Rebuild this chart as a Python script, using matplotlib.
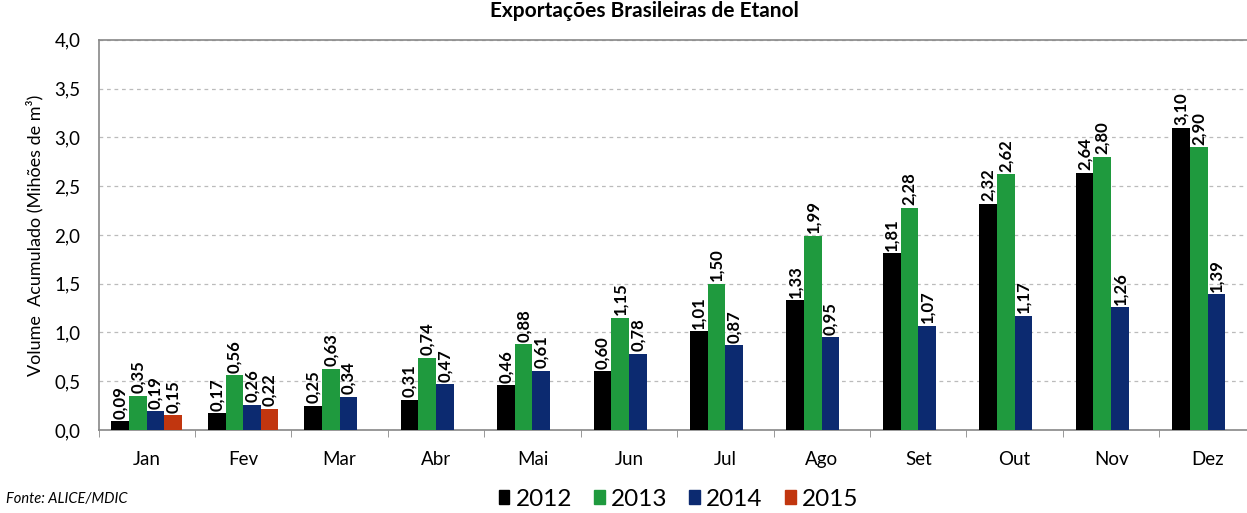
import numpy as np
import matplotlib
matplotlib.use("Agg")
import matplotlib.pyplot as plt
from matplotlib.patches import Patch

plt.rcParams["font.family"] = ["Lato", "DejaVu Sans"]

meses = ["Jan", "Fev", "Mar", "Abr", "Mai", "Jun", "Jul", "Ago", "Set", "Out", "Nov", "Dez"]
v2012 = [0.09, 0.17, 0.25, 0.31, 0.46, 0.60, 1.01, 1.33, 1.81, 2.32, 2.64, 3.10]
v2013 = [0.35, 0.56, 0.63, 0.74, 0.88, 1.15, 1.50, 1.99, 2.28, 2.62, 2.80, 2.90]
v2014 = [0.19, 0.26, 0.34, 0.47, 0.61, 0.78, 0.87, 0.95, 1.07, 1.17, 1.26, 1.39]
v2015 = [0.15, 0.22]
anos = ["2012", "2013", "2014", "2015"]
cores = ["#000000", "#1f9a3e", "#0c2a70", "#c1360f"]


def fmt(v, casas):
    return f"{v:.{casas}f}".replace(".", ",")


def main():
    fig = plt.figure(figsize=(12.47, 5.13), dpi=100)
    ax = fig.add_axes([0.079, 0.1618, 0.928, 0.7605])

    largura = 0.183
    series = [v2012, v2013, v2014, v2015]
    for k, (vals, cor) in enumerate(zip(series, cores)):
        x = np.arange(len(vals)) + (k - 1.5) * largura
        ax.bar(x, vals, width=largura, color=cor, zorder=3)
        for xi, v in zip(x, vals):
            ax.text(xi, v + 0.025, fmt(v, 2), rotation=90, ha="center", va="bottom",
                    fontsize=12, fontweight="bold", zorder=4)

    ax.set_xlim(-0.5, 11.5)
    ax.set_ylim(0, 4.0)
    ax.set_yticks(np.arange(0, 4.01, 0.5))
    ax.set_yticklabels([fmt(t, 1) for t in np.arange(0, 4.01, 0.5)])
    ax.set_xticks(np.arange(12))
    ax.set_xticklabels(meses)
    ax.set_xticks(np.arange(-0.5, 12, 1), minor=True)
    ax.tick_params(axis="x", which="major", length=0, pad=15, labelsize=13.5)
    ax.tick_params(axis="x", which="minor", length=5, color="#888888", direction="out")
    ax.tick_params(axis="y", length=0, pad=13, labelsize=13.5)

    ax.yaxis.grid(True, linestyle=(0, (3, 3)), color="#bbbbbb", linewidth=0.9, zorder=0)
    for s in ["left", "bottom", "top"]:
        ax.spines[s].set_color("#888888")
        ax.spines[s].set_linewidth(1.2)
    ax.spines["right"].set_visible(False)

    ax.set_ylabel("Volume  Acumulado (Mihões de m³)", fontsize=13, labelpad=8)

    fig.text(0.517, 0.999, "Exportações Brasileiras de Etanol", ha="center",
             va="top", fontsize=15, fontweight="bold")

    handles = [Patch(color=c) for c in cores]
    fig.legend(handles, anos, loc="center", bbox_to_anchor=(0.544, 0.027), ncol=4,
               frameon=False, fontsize=17.5, handlelength=0.45, handleheight=0.45,
               handletextpad=0.25, columnspacing=0.9)

    fig.text(0.005, 0.027, "Fonte: ALICE/MDIC", fontsize=10.5, style="italic", va="center")

    fig.savefig("out.png", dpi=100)


if __name__ == "__main__":
    main()
